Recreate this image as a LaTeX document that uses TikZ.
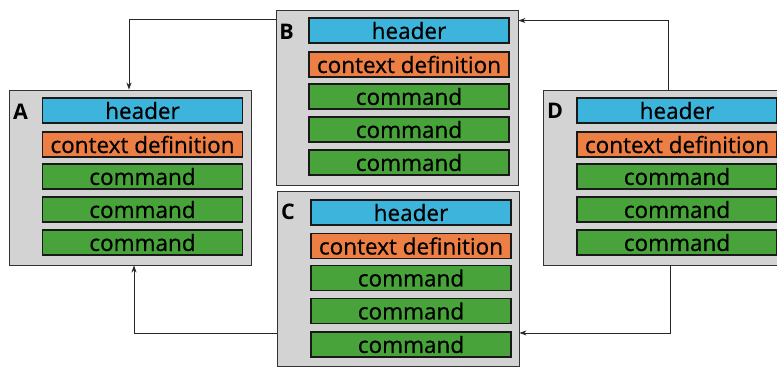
\documentclass[tikz,border=0pt]{standalone}
\usepackage{fontspec}
\setmainfont{Open Sans}
\newfontfamily\barfont{Open Sans}[FakeBold=0.6]
\usetikzlibrary{arrows.meta}

\definecolor{hdrblue}{HTML}{3DB4DB}
\definecolor{ctxorange}{HTML}{EE7F44}
\definecolor{cmdgreen}{HTML}{47A33A}
\definecolor{framegray}{HTML}{D3D3D3}

\begin{document}
\begin{tikzpicture}[
        x=1pt, y=-1pt,
        frame/.style={
            draw=black!80,
            fill=framegray,
            line width=0.9pt,
            minimum width=242pt,
            minimum height=175pt,
            inner sep=0pt
        },
        bar/.style={
            draw=black!90,
            line width=1.1pt,
            minimum width=200pt,
            minimum height=25pt,
            inner sep=0pt,
            font=\barfont\fontsize{22.5}{22.5}\selectfont
        },
        hdr/.style={bar, fill=hdrblue},
        ctx/.style={bar, fill=ctxorange},
        cmd/.style={bar, fill=cmdgreen},
        tag/.style={font=\fontsize{21.5}{21.5}\selectfont\bfseries, inner sep=0pt},
        link/.style={-{Stealth[length=7pt,width=5pt]}, line width=0.8pt, black!85}
    ]
        \clip (0,0) rectangle (777,367);
        \fill[white] (0,0) rectangle (777,367);

        % A
        \node[frame] (A) at (130,177.5) {};
        \node[tag] (tagA) at (20.5,111.5) {A};
        \node[hdr] (hdrA) at (142.5,110.5) {header};
        \node[ctx] (ctxA) at (142.5,144.5) {context definition};
        \node[cmd] (cmdA1) at (142.5,176.5) {command};
        \node[cmd] (cmdA2) at (142.5,209.5) {command};
        \node[cmd] (cmdA3) at (142.5,242.5) {command};

        % B
        \node[frame] (B) at (397,97.5) {};
        \node[tag] (tagB) at (286.5,31.5) {B};
        \node[hdr] (hdrB) at (409,30.5) {header};
        \node[ctx] (ctxB) at (409,64.5) {context definition};
        \node[cmd] (cmdB1) at (409,96.5) {command};
        \node[cmd] (cmdB2) at (409,129.5) {command};
        \node[cmd] (cmdB3) at (409,162.5) {command};

        % C
        \node[frame] (C) at (398,279) {};
        \node[tag] (tagC) at (288,212) {C};
        \node[hdr] (hdrC) at (411,212.5) {header};
        \node[ctx] (ctxC) at (411,246) {context definition};
        \node[cmd] (cmdC1) at (411,278) {command};
        \node[cmd] (cmdC2) at (411,311) {command};
        \node[cmd] (cmdC3) at (411,344.5) {command};

        % D
        \node[frame] (D) at (664,177.5) {};
        \node[tag] (tagD) at (555,110.5) {D};
        \node[hdr] (hdrD) at (677,110.5) {header};
        \node[ctx] (ctxD) at (677,144.5) {context definition};
        \node[cmd] (cmdD1) at (677,176.5) {command};
        \node[cmd] (cmdD2) at (677,209.5) {command};
        \node[cmd] (cmdD3) at (677,242.5) {command};

        \draw[link] ([yshift=-10pt]B.north west) -| ([xshift=-1pt]A.north);
        \draw[link] ([xshift=4pt]D.north) |- ([yshift=-11pt]B.north east);
        \draw[link] ([xshift=6pt]D.south) |- ([yshift=34pt]C.south east);
        \draw[link] ([yshift=34pt]C.south west) -| ([xshift=4pt]A.south);
    \end{tikzpicture}
\end{document}
